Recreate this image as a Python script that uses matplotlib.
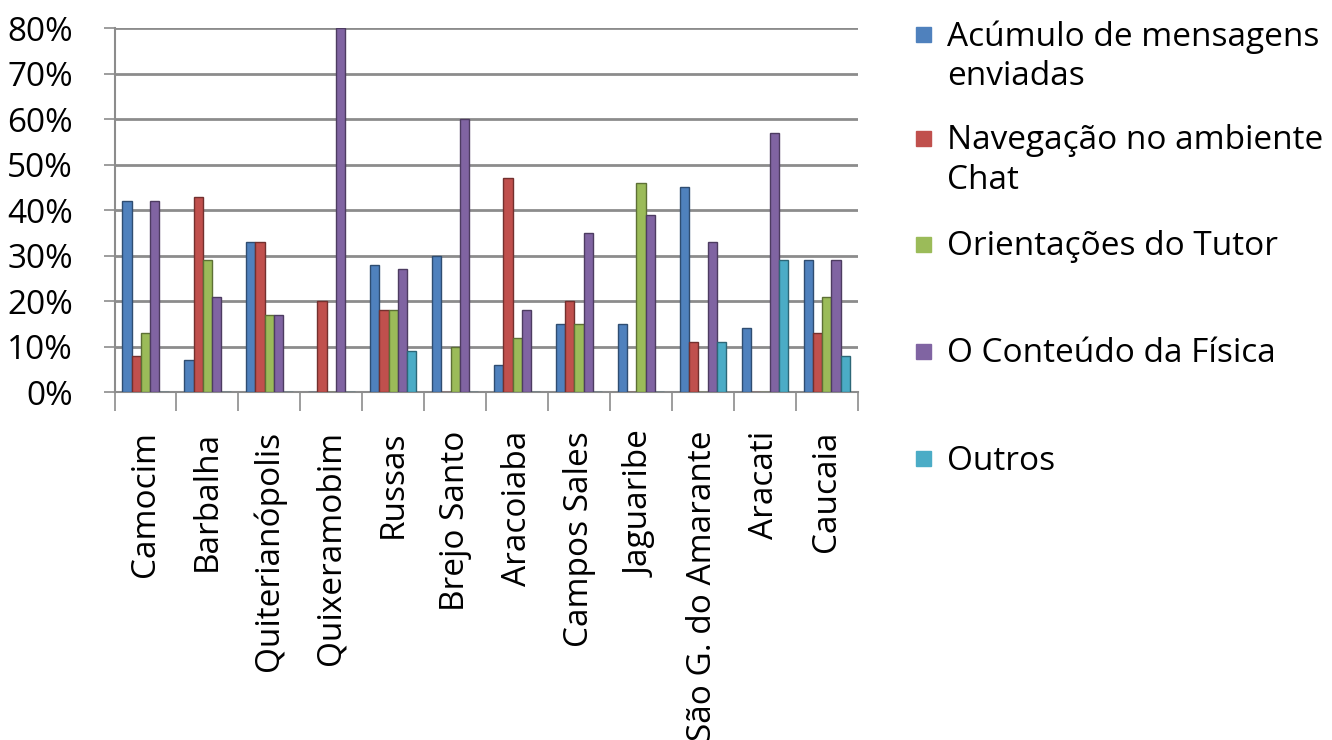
import numpy as np
import matplotlib.pyplot as plt
from matplotlib.patches import Rectangle
from matplotlib.colors import to_rgb

plt.rcParams['font.family'] = ['Open Sans', 'DejaVu Sans']

# municipalities (x axis)
cidades = ['Camocim', 'Barbalha', 'Quiterianópolis', 'Quixeramobim', 'Russas',
           'Brejo Santo', 'Aracoiaba', 'Campos Sales', 'Jaguaribe',
           'São G. do Amarante', 'Aracati', 'Caucaia']

# percentages per category
acumulo = [42, 7, 33, 0, 28, 30, 6, 15, 15, 45, 14, 29]
navegacao = [8, 43, 33, 20, 18, 0, 47, 20, 0, 11, 0, 13]
orientacoes = [13, 29, 17, 0, 18, 10, 12, 15, 46, 0, 0, 21]
conteudo = [42, 21, 17, 80, 27, 60, 18, 35, 39, 33, 57, 29]
outros = [0, 0, 0, 0, 9, 0, 0, 0, 0, 11, 29, 8]

series = [acumulo, navegacao, orientacoes, conteudo, outros]
nomes = ['Acúmulo de mensagens\nenviadas', 'Navegação no ambiente\nChat',
         'Orientações do Tutor', 'O Conteúdo da Física', 'Outros']
cores = ['#4F81BD', '#C0504D', '#9BBB59', '#8064A2', '#4BACC6']

fs = 24

fig = plt.figure(figsize=(13.32, 7.4), dpi=100)
ax = fig.add_axes([0.086, 0.47, 0.558, 0.492])

x = np.arange(len(cidades))
w = 0.15
for i, (vals, cor) in enumerate(zip(series, cores)):
    escura = tuple(c * 0.6 for c in to_rgb(cor))
    ax.bar(x - 0.3 + i * w, vals, width=w, color=cor, edgecolor=escura,
           linewidth=1.0, zorder=3)

ax.set_xlim(-0.5, len(cidades) - 0.5)
ax.set_ylim(0, 80)
ax.set_yticks(range(0, 81, 10))
ax.set_yticklabels([f'{v}%' for v in range(0, 81, 10)], fontsize=fs)
ax.yaxis.grid(True, color='#8c8c8c', linewidth=2, zorder=0)
ax.set_axisbelow(True)

ax.set_xticks(np.arange(-0.5, len(cidades)), minor=False)
ax.set_xticklabels([])
ax.tick_params(axis='x', length=14, color='#8c8c8c', width=1.2, direction='out')
ax.tick_params(axis='y', length=8, color='#8c8c8c', width=1.2, pad=22)
for i, nome in enumerate(cidades):
    ax.text(i, -8.5, nome, rotation=90, ha='center', va='top', fontsize=fs,
            transform=ax.transData, clip_on=False)

for s in ['top', 'right']:
    ax.spines[s].set_visible(False)
ax.spines['left'].set_color('#8c8c8c')
ax.spines['left'].set_linewidth(1.5)
ax.spines['bottom'].set_color('#8c8c8c')
ax.spines['bottom'].set_linewidth(1.5)

# legend on the right
ys = [0.955, 0.815, 0.672, 0.527, 0.382]
for nome, cor, yy in zip(nomes, cores, ys):
    fig.patches.append(Rectangle((0.688, yy - 0.012), 0.011, 0.02,
                                 transform=fig.transFigure, color=cor))
    fig.text(0.711, yy + 0.017, nome, fontsize=fs, va='top', ha='left',
             linespacing=1.25)

fig.savefig('out.png', dpi=100)
